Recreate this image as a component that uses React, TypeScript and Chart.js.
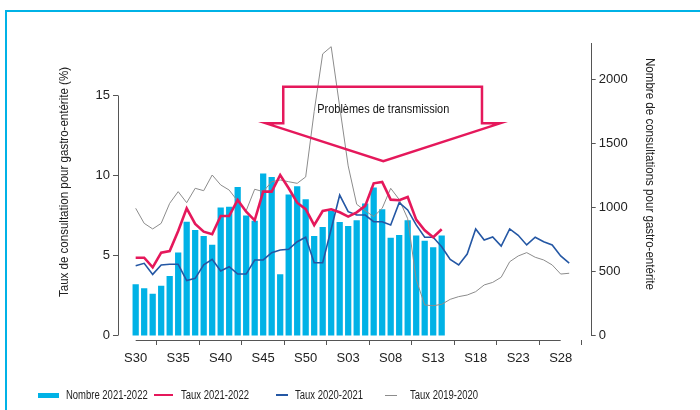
import React, { useEffect, useRef } from "react";
import { Chart, registerables } from "chart.js";

Chart.register(...registerables);

// ---------- data ----------
const weeks: string[] = [
  "S30", "S31", "S32", "S33", "S34", "S35", "S36", "S37", "S38", "S39",
  "S40", "S41", "S42", "S43", "S44", "S45", "S46", "S47", "S48", "S49",
  "S50", "S51", "S52", "S01", "S02", "S03", "S04", "S05", "S06", "S07",
  "S08", "S09", "S10", "S11", "S12", "S13", "S14", "S15", "S16", "S17",
  "S18", "S19", "S20", "S21", "S22", "S23", "S24", "S25", "S26", "S27",
  "S28", "S29",
];

const xTickWeeks: string[] = ["S30", "S35", "S40", "S45", "S50", "S03", "S08", "S13", "S18", "S23", "S28"];
const leftTicks: number[] = [0, 5, 10, 15];
const rightTicks: number[] = [0, 500, 1000, 1500, 2000];

// Nombre de consultations 2021-2022 (right axis)
const nombre2122: number[] = [
  400, 369, 325, 387, 465, 647, 888, 823, 777, 709,
  1000, 1005, 1161, 938, 896, 1265, 1239, 478, 1101, 1166,
  1065, 776, 848, 972, 886, 855, 901, 1031, 1156, 986,
  763, 784, 901, 780, 739, 689, 780,
];

// Taux 2021-2022 (%)
const taux2122: number[] = [
  4.86, 4.86, 4.26, 5.18, 5.28, 6.53, 7.95, 6.97, 6.49, 6.33,
  7.47, 7.47, 8.47, 7.74, 7.2, 8.99, 8.99, 10.03, 9.2, 8.3,
  7.9, 6.9, 7.78, 7.89, 7.7, 7.43, 7.7, 8.1, 9.51, 9.6,
  8.49, 8.45, 8.66, 7.24, 6.58, 6.14, 6.64,
];

// Taux 2020-2021 (%)
const taux2021: number[] = [
  4.36, 4.51, 3.82, 4.41, 4.45, 4.45, 3.43, 3.57, 4.41, 4.76,
  4.03, 4.3, 3.84, 3.84, 4.72, 4.72, 5.18, 5.34, 5.39, 5.86,
  6.14, 4.55, 4.55, 6.66, 8.78, 7.74, 7.53, 7.53, 7.11, 7.11,
  6.91, 8.3, 7.85, 6.91, 6.14, 6.14, 5.55, 4.76, 4.41, 5.09,
  6.66, 5.97, 6.16, 5.59, 6.66, 6.26, 5.66, 6.14, 5.86, 5.66,
  4.97, 4.53,
];

// Taux 2019-2020 (%)
const taux1920: number[] = [
  7.95, 7.01, 6.66, 7.01, 8.26, 8.99, 8.3, 9.2, 9.05, 10.03,
  9.41, 9.09, 8.4, 7.8, 9.14, 8.99, 9.61, 9.72, 9.61, 9.51,
  9.91, 14.0, 17.6, 18.05, 14.3, 10.6, 8.2, 7.8, 7.43, 7.95,
  9.2, 8.5, 7.3, 3.5, 1.91, 1.86, 1.95, 2.26, 2.43, 2.53,
  2.74, 3.16, 3.32, 3.64, 4.61, 4.97, 5.18, 4.89, 4.72, 4.41,
  3.84, 3.89,
];

// annotation (in data units: x = week index, y = left axis %)
const noteText = "Problèmes de transmission";
const noteBox = { x0: 17.36, x1: 40.74, xw0: 15.33, xw1: 42.86, xTip: 29.13, yTop: 15.55, yWing: 13.26, yTip: 10.9, yText: 14.16 };

// ---------- styles ----------
const BAR = "#00b2e6";
const PINK = "#e5185b";
const BLUE = "#2457a4";
const GRAY = "#8c8c8c";
const AXIS = "#555555";
const TEXT = "#222222";
const SANS = "'Liberation Sans', Arial, Helvetica, sans-serif";

const leftTitle = "Taux de consultation pour gastro-entérite (%)";
const rightTitle = "Nombre de consultations pour gastro-entérite";

const legendItems = [
  { label: "Nombre 2021-2022", kind: "bar", color: BAR, lw: 5, x: 38, w: 21, tx: 66 },
  { label: "Taux 2021-2022", kind: "line", color: PINK, lw: 2.5, x: 154, w: 19, tx: 181 },
  { label: "Taux 2020-2021", kind: "line", color: BLUE, lw: 1.6, x: 276, w: 12, tx: 295 },
  { label: "Taux 2019-2020", kind: "line", color: GRAY, lw: 1, x: 385, w: 12, tx: 410 },
];

// draws text squeezed to a target width (the original uses a condensed face)
function fillFitted(ctx: CanvasRenderingContext2D, text: string, x: number, y: number, angle: number, targetW: number) {
  const w = ctx.measureText(text).width;
  ctx.save();
  ctx.translate(x, y);
  ctx.rotate(angle);
  ctx.scale(targetW / w, 1);
  ctx.fillText(text, 0, 0);
  ctx.restore();
}

const decorPlugin = {
  id: "decor",
  afterDraw(chart: any) {
    const { ctx, chartArea, scales } = chart;
    const xs = scales.x, ys = scales.y, y2 = scales.y2;
    ctx.save();
    ctx.strokeStyle = AXIS;
    ctx.lineWidth = 1;
    // left axis line 0..15
    const lx = Math.round(chartArea.left) + 0.5;
    ctx.beginPath();
    ctx.moveTo(lx, ys.getPixelForValue(leftTicks[0]));
    ctx.lineTo(lx, ys.getPixelForValue(leftTicks[leftTicks.length - 1]));
    ctx.stroke();
    // right axis line 0..top
    const rx = Math.round(chartArea.right) + 0.5;
    ctx.beginPath();
    ctx.moveTo(rx, y2.getPixelForValue(0));
    ctx.lineTo(rx, chartArea.top);
    ctx.stroke();
    // x axis line first..last tick
    const by = Math.round(chartArea.bottom) + 0.5;
    ctx.beginPath();
    ctx.moveTo(xs.getPixelForValue(weeks.indexOf(xTickWeeks[0])), by);
    ctx.lineTo(xs.getPixelForValue(weeks.indexOf(xTickWeeks[xTickWeeks.length - 1])), by);
    ctx.stroke();

    // axis titles
    ctx.fillStyle = TEXT;
    ctx.font = `12.5px ${SANS}`;
    ctx.textAlign = "center";
    ctx.textBaseline = "middle";
    fillFitted(ctx, leftTitle, 65, 182, -Math.PI / 2, 230);
    fillFitted(ctx, rightTitle, 649, 174, Math.PI / 2, 232);

    // annotation arrow
    const px = (v: number) => xs.getPixelForValue(v);
    const py = (v: number) => ys.getPixelForValue(v);
    ctx.strokeStyle = PINK;
    ctx.lineWidth = 2.5;
    ctx.lineJoin = "miter";
    ctx.beginPath();
    ctx.moveTo(px(noteBox.x0), py(noteBox.yTop));
    ctx.lineTo(px(noteBox.x1), py(noteBox.yTop));
    ctx.lineTo(px(noteBox.x1), py(noteBox.yWing));
    ctx.lineTo(px(noteBox.xw1), py(noteBox.yWing));
    ctx.lineTo(px(noteBox.xTip), py(noteBox.yTip));
    ctx.lineTo(px(noteBox.xw0), py(noteBox.yWing));
    ctx.lineTo(px(noteBox.x0), py(noteBox.yWing));
    ctx.closePath();
    ctx.stroke();
    ctx.fillStyle = "#111111";
    ctx.font = `13px ${SANS}`;
    fillFitted(ctx, noteText, px(noteBox.xTip), py(noteBox.yText), 0, 132);
    ctx.restore();
  },
};

export default function App() {
  const canvasRef = useRef<HTMLCanvasElement | null>(null);

  useEffect(() => {
    const canvas = canvasRef.current;
    if (!canvas) return;
    const toXY = (arr: number[]) => arr.map((v, i) => ({ x: i, y: v }));
    const tickFont = { family: SANS, size: 13 };

    const chart = new Chart(canvas, {
      type: "bar",
      data: {
        datasets: [
          {
            type: "line",
            label: "Taux 2021-2022",
            data: toXY(taux2122),
            yAxisID: "y",
            borderColor: PINK,
            borderWidth: 2.6,
            pointRadius: 0,
            tension: 0,
            order: 0,
          } as any,
          {
            type: "line",
            label: "Taux 2020-2021",
            data: toXY(taux2021),
            yAxisID: "y",
            borderColor: BLUE,
            borderWidth: 1.6,
            pointRadius: 0,
            tension: 0,
            order: 1,
          } as any,
          {
            type: "line",
            label: "Taux 2019-2020",
            data: toXY(taux1920),
            yAxisID: "y",
            borderColor: GRAY,
            borderWidth: 1,
            pointRadius: 0,
            tension: 0,
            order: 2,
          } as any,
          {
            type: "bar",
            label: "Nombre 2021-2022",
            data: toXY(nombre2122),
            yAxisID: "y2",
            backgroundColor: BAR,
            barThickness: 5.6,
            order: 3,
          } as any,
        ],
      },
      options: {
        animation: false,
        responsive: false,
        maintainAspectRatio: false,
        layout: { padding: { top: 43, left: 0, right: 0, bottom: 0 }, autoPadding: false } as any,
        plugins: { legend: { display: false }, tooltip: { enabled: false } },
        scales: {
          x: {
            type: "linear",
            min: -2.08,
            max: 53.53,
            offset: false,
            border: { display: false },
            grid: { display: true, drawOnChartArea: false, drawTicks: true, tickLength: 5, color: AXIS },
            afterBuildTicks: (s: any) => {
              s.ticks = xTickWeeks.map((w) => ({ value: weeks.indexOf(w) }));
            },
            afterFit: (s: any) => {
              s.height = 70;
            },
            ticks: {
              autoSkip: false,
              maxRotation: 0,
              padding: 6,
              color: TEXT,
              font: tickFont,
              callback: (v: any) => weeks[Math.round(Number(v))],
            },
          } as any,
          y: {
            type: "linear",
            position: "left",
            min: -0.281,
            max: 18.28,
            border: { display: false },
            grid: { display: true, drawOnChartArea: false, drawTicks: true, tickLength: 5, color: AXIS },
            afterBuildTicks: (s: any) => {
              s.ticks = leftTicks.map((v) => ({ value: v }));
            },
            afterFit: (s: any) => {
              s.width = 118;
            },
            ticks: { padding: 3, color: TEXT, font: tickFont, callback: (v: any) => String(v) },
          } as any,
          y2: {
            type: "linear",
            position: "right",
            min: -33.6,
            max: 2288.5,
            border: { display: false },
            grid: { display: true, drawOnChartArea: false, drawTicks: true, tickLength: 5, color: AXIS },
            afterBuildTicks: (s: any) => {
              s.ticks = rightTicks.map((v) => ({ value: v }));
            },
            afterFit: (s: any) => {
              s.width = 109.3;
            },
            ticks: { padding: 3, color: TEXT, font: tickFont, callback: (v: any) => String(v) },
          } as any,
        },
      },
      plugins: [decorPlugin],
    });
    return () => chart.destroy();
  }, []);

  return (
    <div style={{ position: "fixed", left: 0, top: 0, width: 700, height: 410, overflow: "hidden", background: "#ffffff" }}>
      <div
        style={{
          position: "absolute",
          left: 5,
          top: 10,
          width: 720,
          height: 420,
          borderLeft: `2px solid ${BAR}`,
          borderTop: `2px solid ${BAR}`,
          boxSizing: "border-box",
        }}
      />
      <canvas ref={canvasRef} width={700} height={410} style={{ position: "absolute", left: 0, top: 0, width: 700, height: 410 }} />
      {legendItems.map((it) => (
        <React.Fragment key={it.label}>
          <div
            style={{
              position: "absolute",
              left: it.x,
              top: 395 - it.lw / 2,
              width: it.w,
              height: it.lw,
              background: it.color,
            }}
          />
          <div
            style={{
              position: "absolute",
              left: it.tx,
              top: 387,
              height: 16,
              lineHeight: "16px",
              fontFamily: SANS,
              fontSize: 12,
              color: TEXT,
              whiteSpace: "nowrap",
              transform: "scaleX(0.79)",
              transformOrigin: "0 50%",
            }}
          >
            {it.label}
          </div>
        </React.Fragment>
      ))}
    </div>
  );
}
